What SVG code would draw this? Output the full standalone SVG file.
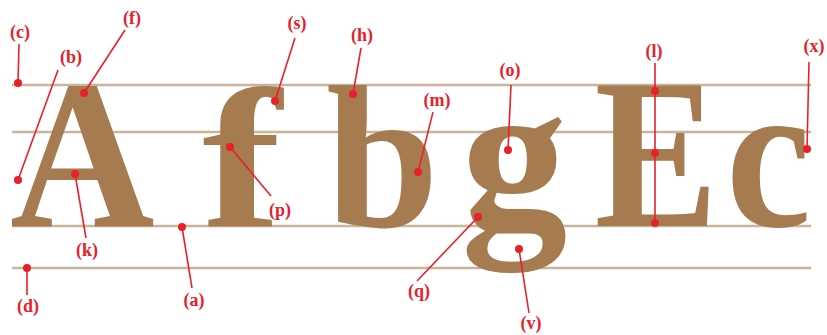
<svg xmlns="http://www.w3.org/2000/svg" width="827" height="335" viewBox="0 0 827 335">
<style>
.guide{stroke:#c9b59c;stroke-width:2.5;fill:none}
.glyph{font-family:"Liberation Serif","Times New Roman",serif;font-weight:bold;font-size:213px;fill:#a67b50}
.lead{stroke:#e8202a;stroke-width:1.6;fill:none}
.dot{fill:#e8202a}
.lbl{font-family:"Liberation Serif","Times New Roman",serif;font-weight:bold;font-size:18px;fill:#e8202a;text-anchor:middle}
</style>
<rect width="827" height="335" fill="#ffffff"/>
<g id="guides">
<line class="guide" x1="12" y1="85" x2="811" y2="85"/>
<line class="guide" x1="12" y1="132" x2="811" y2="132"/>
<line class="guide" x1="12" y1="226" x2="811" y2="226"/>
<line class="guide" x1="12" y1="268" x2="811" y2="268"/>
</g>
<g id="letters">
<text id="letter-A" class="glyph" transform="translate(10.1,226) scale(0.94,1)" x="0" y="0">A</text>
<text id="letter-f" class="glyph" style="font-size:199px" transform="translate(202,226) scale(1.2,1)" x="0" y="0">f</text>
<text id="letter-b" class="glyph" style="font-size:203px" x="326" y="226">b</text>
<text id="letter-g" class="glyph" x="461" y="226">g</text>
<text id="letter-E" class="glyph" transform="translate(594.4,226) scale(0.87,1)" x="0" y="0">E</text>
<text id="letter-c" class="glyph" transform="translate(726,226) scale(0.9,1)" x="0" y="0">c</text>
</g>
<g id="connectors">
<line class="lead" x1="19" y1="44" x2="18" y2="83"/>
<line class="lead" x1="58" y1="70" x2="18" y2="180"/>
<line class="lead" x1="125" y1="30" x2="84" y2="93"/>
<line class="lead" x1="295" y1="38" x2="275" y2="101"/>
<line class="lead" x1="361" y1="48" x2="353" y2="94"/>
<line class="lead" x1="511" y1="85" x2="508" y2="150"/>
<line class="lead" x1="433" y1="112" x2="418" y2="172"/>
<line class="lead" x1="655" y1="63" x2="655" y2="223"/>
<line class="lead" x1="809" y1="62" x2="807" y2="149"/>
<line class="lead" x1="271" y1="196" x2="230" y2="147"/>
<line class="lead" x1="86" y1="238" x2="75" y2="174"/>
<line class="lead" x1="192" y1="288" x2="182" y2="227"/>
<line class="lead" x1="27" y1="295" x2="27" y2="268"/>
<line class="lead" x1="417" y1="281" x2="478" y2="217"/>
<line class="lead" x1="529" y1="313" x2="519" y2="249"/>
</g>
<g id="dots">
<circle class="dot" cx="18" cy="83" r="4"/>
<circle class="dot" cx="18" cy="180" r="4"/>
<circle class="dot" cx="84" cy="93" r="4"/>
<circle class="dot" cx="275" cy="101" r="4"/>
<circle class="dot" cx="353" cy="94" r="4"/>
<circle class="dot" cx="508" cy="150" r="4"/>
<circle class="dot" cx="418" cy="172" r="4"/>
<circle class="dot" cx="655" cy="91" r="4"/>
<circle class="dot" cx="655" cy="153" r="4"/>
<circle class="dot" cx="655" cy="223" r="4"/>
<circle class="dot" cx="807" cy="149" r="4"/>
<circle class="dot" cx="230" cy="147" r="4"/>
<circle class="dot" cx="75" cy="174" r="4"/>
<circle class="dot" cx="182" cy="227" r="4"/>
<circle class="dot" cx="27" cy="268" r="4"/>
<circle class="dot" cx="478" cy="217" r="4"/>
<circle class="dot" cx="519" cy="249" r="4"/>
</g>
<g id="labels">
<text id="label-c" class="lbl" x="20" y="38">(c)</text>
<text id="label-b" class="lbl" x="71" y="63">(b)</text>
<text id="label-f" class="lbl" x="132" y="24">(f)</text>
<text id="label-s" class="lbl" x="297" y="29">(s)</text>
<text id="label-h" class="lbl" x="362" y="41">(h)</text>
<text id="label-o" class="lbl" x="510" y="76">(o)</text>
<text id="label-m" class="lbl" x="437" y="106">(m)</text>
<text id="label-l" class="lbl" x="654" y="57">(l)</text>
<text id="label-x" class="lbl" x="814" y="52">(x)</text>
<text id="label-p" class="lbl" x="280" y="216">(p)</text>
<text id="label-k" class="lbl" x="87" y="256">(k)</text>
<text id="label-a" class="lbl" x="194" y="306">(a)</text>
<text id="label-d" class="lbl" x="28" y="312">(d)</text>
<text id="label-q" class="lbl" x="419" y="297">(q)</text>
<text id="label-v" class="lbl" x="531" y="329">(v)</text>
</g>
</svg>
